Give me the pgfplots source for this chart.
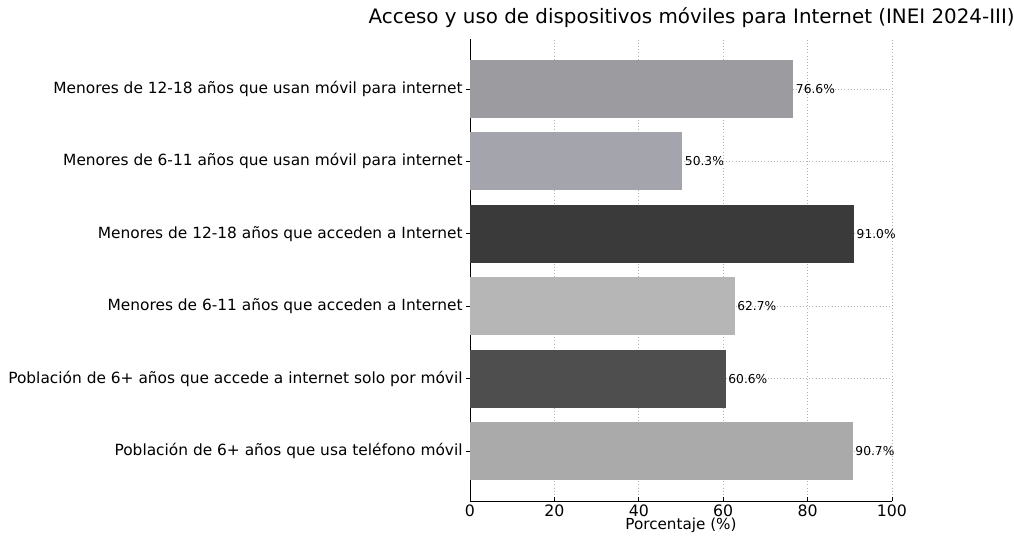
\documentclass[border=0pt]{standalone}
\usepackage{fontspec}
\setmainfont{DejaVu Sans}
\usepackage{pgfplots}
\pgfplotsset{compat=1.18}
\definecolor{cA}{HTML}{9C9CA0}
\definecolor{cB}{HTML}{A4A4AC}
\definecolor{cC}{HTML}{3A3A3A}
\definecolor{cD}{HTML}{B6B6B6}
\definecolor{cE}{HTML}{4E4E4E}
\definecolor{cF}{HTML}{AAAAAA}
\begin{document}
\begin{tikzpicture}
\path[use as bounding box] (-352.5pt,-28.5pt) rectangle (408pt,375.75pt);
\begin{axis}[
  at={(0,0)}, anchor=south west,
  scale only axis, width=316.5pt, height=346.5pt,
  xbar, bar shift=0pt, bar width=0.8,
  xmin=0, xmax=100, ymin=-0.69, ymax=5.69,
  axis lines*=left, axis line style={-, black, line width=0.6pt},
  xtick={0,20,40,60,80,100},
  ytick={0,1,2,3,4,5},
  yticklabels={
    Población de 6+ años que usa teléfono móvil,
    Población de 6+ años que accede a internet solo por móvil,
    Menores de 6-11 años que acceden a Internet,
    Menores de 12-18 años que acceden a Internet,
    Menores de 6-11 años que usan móvil para internet,
    Menores de 12-18 años que usan móvil para internet},
  xtick align=inside, ytick align=outside, major tick length=3pt,
  tick style={black, line width=0.6pt},
  xticklabel style={font=\fontsize{11.8}{13}\selectfont, inner sep=0.5pt, yshift=-2pt},
  yticklabel style={font=\fontsize{11.55}{13}\selectfont, xshift=1pt},
  /pgf/number format/assume math mode=true,
  grid=major, grid style={dotted, gray!60, line width=0.5pt},
  xlabel={Porcentaje (\%)},
  xlabel style={font=\fontsize{11.4}{12}\selectfont, inner sep=0pt, yshift=-0.5pt},
  title={Acceso y uso de dispositivos móviles para Internet (INEI 2024-III)},
  title style={font=\fontsize{14.9}{17}\selectfont, anchor=base, at={(0.5,1)}, yshift=5.25pt, xshift=8pt},
  nodes near coords={\pgfmathprintnumber[fixed,fixed zerofill,precision=1]{\pgfplotspointmeta}\%},
  nodes near coords align={horizontal},
  every node near coord/.append style={font=\fontsize{9.2}{10}\selectfont, black, anchor=west, xshift=-1.5pt},
  point meta=x,
]
\addplot[fill=cF, draw=none] coordinates {(90.7,0)};
\addplot[fill=cE, draw=none] coordinates {(60.6,1)};
\addplot[fill=cD, draw=none] coordinates {(62.7,2)};
\addplot[fill=cC, draw=none] coordinates {(91.0,3)};
\addplot[fill=cB, draw=none] coordinates {(50.3,4)};
\addplot[fill=cA, draw=none] coordinates {(76.6,5)};
\end{axis}
\end{tikzpicture}
\end{document}
